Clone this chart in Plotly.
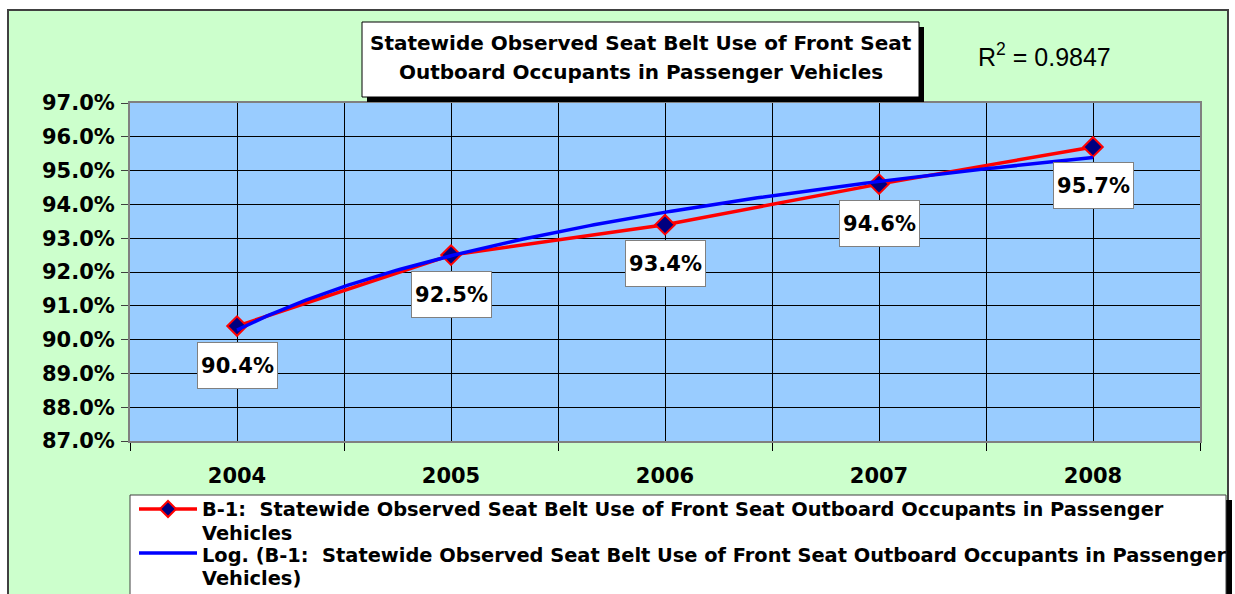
import numpy as np
import plotly.graph_objects as go

# ---------------- data ----------------
years = ["2004", "2005", "2006", "2007", "2008"]
belt_use = [0.904, 0.925, 0.934, 0.946, 0.957]
label_text = ["90.4%", "92.5%", "93.4%", "94.6%", "95.7%"]
r_squared_text = "R<sup>2</sup> = 0.9847"
title_lines = ["Statewide Observed Seat Belt Use of Front Seat",
               "Outboard Occupants in Passenger Vehicles"]
legend_lines = [
    ["B-1:  Statewide Observed Seat Belt Use of Front Seat Outboard Occupants in Passenger", "Vehicles"],
    ["Log. (B-1:  Statewide Observed Seat Belt Use of Front Seat Outboard Occupants in Passenger", "Vehicles)"],
]

# ---------------- layout geometry ----------------
W, H = 1235, 594
L, R, T, B = 130, 1200, 103, 441
BOLD = "DejaVu Sans, Arial, sans-serif"
ARIAL = "Arial, Liberation Sans, sans-serif"


def px(x):
    return (x - L) / (R - L)


def py(y):
    return (B - y) / (B - T)


xi = list(range(len(years)))

# logarithmic trendline (least squares on ln(x)), as Excel does
lx = np.log(np.arange(1, len(years) + 1))
b, a = np.polyfit(lx, np.array(belt_use), 1)
xs = np.linspace(0, len(years) - 1, 200)
ys = a + b * np.log(xs + 1)

fig = go.Figure()
fig.add_trace(go.Scatter(
    x=xi, y=belt_use, mode="lines+markers",
    line=dict(color="#FF0000", width=3.5),
    marker=dict(symbol="diamond", size=15, color="#000080",
                line=dict(color="#FF0000", width=2)),
    showlegend=False, hoverinfo="skip"))
fig.add_trace(go.Scatter(
    x=xs, y=ys, mode="lines",
    line=dict(color="#0000FF", width=3.5),
    showlegend=False, hoverinfo="skip"))

shapes = []
annotations = []

# chart area background + border
shapes.append(dict(type="rect", xref="paper", yref="paper",
                   x0=px(8), x1=px(1228), y0=py(620), y1=py(10),
                   fillcolor="#CCFFCC", line=dict(color="#404040", width=2),
                   layer="below"))
# plot area background
shapes.append(dict(type="rect", xref="paper", yref="paper",
                   x0=0, x1=1, y0=0, y1=1,
                   fillcolor="#99CCFF", line=dict(width=0), layer="below"))

# title box with shadow
shapes.append(dict(type="rect", xref="paper", yref="paper",
                   x0=px(367), x1=px(924), y0=py(102), y1=py(27),
                   fillcolor="black", line=dict(width=0)))
shapes.append(dict(type="rect", xref="paper", yref="paper",
                   x0=px(362), x1=px(919), y0=py(97), y1=py(22),
                   fillcolor="white", line=dict(color="black", width=1)))
for t, yy in zip(title_lines, [43, 72]):
    annotations.append(dict(xref="paper", yref="paper", x=px(640.5), y=py(yy),
                            text=t, showarrow=False, xanchor="center", yanchor="middle",
                            font=dict(family=BOLD, size=20, color="black", weight="bold")))

# R squared
annotations.append(dict(xref="paper", yref="paper", x=px(976), y=py(55),
                        text=r_squared_text, showarrow=False, xanchor="left",
                        yanchor="middle",
                        font=dict(family=ARIAL, size=25, color="black")))

# data labels
for i, (v, t) in enumerate(zip(belt_use, label_text)):
    annotations.append(dict(x=i, y=v, text=t, showarrow=False, yshift=-39,
                            xanchor="center", yanchor="middle",
                            bgcolor="white", bordercolor="#808080", borderwidth=1,
                            width=79, height=45, borderpad=0,
                            font=dict(family=BOLD, size=21, color="black", weight="bold")))

# legend box with shadow
shapes.append(dict(type="rect", xref="paper", yref="paper",
                   x0=px(135), x1=px(1232), y0=py(640), y1=py(500),
                   fillcolor="black", line=dict(width=0)))
shapes.append(dict(type="rect", xref="paper", yref="paper",
                   x0=px(130), x1=px(1226), y0=py(635), y1=py(495),
                   fillcolor="white", line=dict(color="#404040", width=1)))
shapes.append(dict(type="line", xref="paper", yref="paper",
                   x0=px(139), x1=px(197), y0=py(509), y1=py(509),
                   line=dict(color="#FF0000", width=3.5)))
shapes.append(dict(type="path", xref="paper", yref="paper",
                   path="M {},{} L {},{} L {},{} L {},{} Z".format(
                       px(168), py(501), px(176), py(509), px(168), py(517), px(160), py(509)),
                   fillcolor="#000080", line=dict(color="#FF0000", width=2)))
shapes.append(dict(type="line", xref="paper", yref="paper",
                   x0=px(139), x1=px(197), y0=py(553), y1=py(553),
                   line=dict(color="#0000FF", width=3.5)))
for entry, ys_ in zip(legend_lines, [(509, 533), (555, 578)]):
    for t, yy in zip(entry, ys_):
        annotations.append(dict(xref="paper", yref="paper", x=px(200), y=py(yy),
                                text=t, showarrow=False, xanchor="left", yanchor="middle",
                                font=dict(family=BOLD, size=19.4, color="black",
                                          weight="bold")))

fig.update_layout(
    width=W, height=H,
    margin=dict(l=L, r=W - R, t=T, b=H - B, pad=0),
    paper_bgcolor="white",
    plot_bgcolor="rgba(0,0,0,0)",
    shapes=shapes,
    annotations=annotations,
    xaxis=dict(range=[-0.5, len(years) - 0.5], tickvals=xi, ticktext=years,
               showgrid=True, gridcolor="black", gridwidth=1,
               ticks="", showline=True, linecolor="#808080", linewidth=2, mirror=True,
               zeroline=False, ticklabelstandoff=15,
               tickfont=dict(family=BOLD, size=21, color="black", weight="bold"),
               minor=dict(tick0=-0.5, dtick=1, showgrid=True, gridcolor="black",
                          gridwidth=1, ticks="outside", ticklen=8, tickcolor="black")),
    yaxis=dict(range=[0.87, 0.97], dtick=0.01, tickformat=".1%",
               showgrid=True, gridcolor="black", gridwidth=1,
               ticks="outside", ticklen=7, tickcolor="#404040",
               showline=True, linecolor="#808080", linewidth=2, mirror=True,
               zeroline=False, ticklabelstandoff=2,
               tickfont=dict(family=BOLD, size=21, color="black", weight="bold")),
)

fig.write_html("out.html", config={"displayModeBar": False},
               post_script="document.body.style.margin='0';document.body.style.overflow='hidden';")
